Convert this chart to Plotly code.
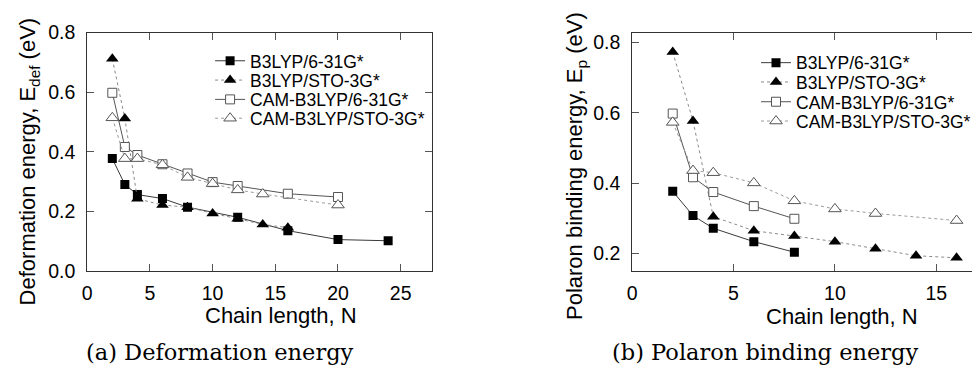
import plotly.graph_objects as go

# ---- Panel (a): deformation energy ----
n_a_b3_631 = [2, 3, 4, 6, 8, 12, 16, 20, 24]
e_a_b3_631 = [0.377, 0.290, 0.256, 0.243, 0.214, 0.180, 0.135, 0.105, 0.101]
n_a_b3_sto = [2, 3, 4, 6, 8, 10, 12, 14, 16]
e_a_b3_sto = [0.712, 0.512, 0.242, 0.221, 0.214, 0.193, 0.175, 0.156, 0.145]
n_a_cam_631 = [2, 3, 4, 6, 8, 10, 12, 16, 20]
e_a_cam_631 = [0.598, 0.416, 0.389, 0.358, 0.327, 0.298, 0.285, 0.259, 0.248]
n_a_cam_sto = [2, 3, 4, 6, 8, 10, 12, 14, 20]
e_a_cam_sto = [0.514, 0.377, 0.377, 0.356, 0.314, 0.293, 0.272, 0.258, 0.221]

# ---- Panel (b): polaron binding energy ----
n_b_b3_631 = [2, 3, 4, 6, 8]
e_b_b3_631 = [0.377, 0.308, 0.272, 0.234, 0.204]
n_b_b3_sto = [2, 3, 4, 6, 8, 10, 12, 14, 16]
e_b_b3_sto = [0.773, 0.577, 0.305, 0.265, 0.250, 0.234, 0.214, 0.194, 0.188]
n_b_cam_631 = [2, 3, 4, 6, 8]
e_b_cam_631 = [0.598, 0.417, 0.375, 0.335, 0.299]
n_b_cam_sto = [2, 3, 4, 6, 8, 10, 12, 16]
e_b_cam_sto = [0.573, 0.436, 0.430, 0.401, 0.350, 0.327, 0.314, 0.294]

series_names = ["B3LYP/6-31G*", "B3LYP/STO-3G*", "CAM-B3LYP/6-31G*", "CAM-B3LYP/STO-3G*"]

FONT = "Liberation Sans, Arial, sans-serif"
W, H = 976, 376


def px(x):
    return x / W


def py(y):
    return 1 - y / H


styles = [
    dict(line=dict(color="#3a3a3a", width=1, dash="solid"),
         marker=dict(symbol="square", size=9, color="black", line=dict(color="black", width=0))),
    dict(line=dict(color="#8a8a8a", width=1, dash="dot"),
         marker=dict(symbol="triangle-up", size=11, color="black", line=dict(color="black", width=0))),
    dict(line=dict(color="#555555", width=1, dash="solid"),
         marker=dict(symbol="square", size=9, color="white", line=dict(color="#555555", width=1))),
    dict(line=dict(color="#9a9a9a", width=1, dash="dot"),
         marker=dict(symbol="triangle-up", size=11, color="white", line=dict(color="#555555", width=1))),
]

panel_a = [(n_a_b3_631, e_a_b3_631), (n_a_b3_sto, e_a_b3_sto),
           (n_a_cam_631, e_a_cam_631), (n_a_cam_sto, e_a_cam_sto)]
panel_b = [(n_b_b3_631, e_b_b3_631), (n_b_b3_sto, e_b_b3_sto),
           (n_b_cam_631, e_b_cam_631), (n_b_cam_sto, e_b_cam_sto)]

# one single-entry legend per series so the row spacing can be set freely
legend_rows_a = [53, 73.5, 94, 114]
legend_rows_b = [55, 75.5, 96.5, 117]
legend_x_a = 207
legend_x_b = 758

legend_layout = {}
fig = go.Figure()
k = 1
for panel, xa, ya, rows, lx in [(panel_a, "x", "y", legend_rows_a, legend_x_a),
                                (panel_b, "x2", "y2", legend_rows_b, legend_x_b)]:
    for (xs, ys), name, st, row in zip(panel, series_names, styles, rows):
        lname = "legend" if k == 1 else f"legend{k}"
        fig.add_trace(go.Scatter(x=xs, y=ys, name=name, mode="lines+markers",
                                 xaxis=xa, yaxis=ya, legend=lname, **st))
        legend_layout[lname] = dict(
            x=px(lx), y=py(row), xanchor="left", yanchor="middle",
            bgcolor="rgba(0,0,0,0)", borderwidth=0,
            font=dict(family=FONT, size=17.5, color="black"))
        k += 1

axis_common = dict(showline=True, linecolor="#333333", linewidth=1,
                   ticks="inside", ticklen=7, tickcolor="#555555", tickwidth=1,
                   showgrid=False, zeroline=False,
                   tickfont=dict(family=FONT, size=19.5, color="black"))

fig.update_layout(
    width=W, height=H, margin=dict(l=0, r=0, t=0, b=0),
    paper_bgcolor="white", plot_bgcolor="white",
    font=dict(family=FONT, color="black"),
    xaxis=dict(domain=[px(83), px(431)], range=[0, 27.5], tickvals=[0, 5, 10, 15, 20, 25],
               anchor="y", mirror="allticks", ticklabelstandoff=5, **axis_common),
    yaxis=dict(domain=[py(276), py(23)], range=[0, 0.8], tickvals=[0, 0.2, 0.4, 0.6, 0.8],
               tickformat=".1f", anchor="x", mirror="allticks", ticklabelstandoff=7,
               **axis_common),
    xaxis2=dict(domain=[px(633), 1.0], range=[0, 16.76], tickvals=[0, 5, 10, 15],
                anchor="y2", mirror="allticks", ticklabelstandoff=5, **axis_common),
    yaxis2=dict(domain=[py(276), py(23)], range=[0.151, 0.828], tickvals=[0.2, 0.4, 0.6, 0.8],
                tickformat=".1f", anchor="x2", mirror=False, ticklabelstandoff=7,
                **axis_common),
    # right-hand tick stubs of panel (b), whose frame runs past the page edge
    yaxis3=dict(overlaying="y2", side="right", anchor="x2", range=[0.151, 0.828],
                tickvals=[0.2, 0.4, 0.6, 0.8], showticklabels=False, showline=False,
                ticks="inside", ticklen=4, tickcolor="#555555", tickwidth=1,
                showgrid=False, zeroline=False),
    showlegend=True,
    **legend_layout,
)

annots = [
    dict(text="Chain length, N", x=px(279), y=py(323), font=dict(size=22)),
    dict(text="Deformation energy, E<sub>def</sub> (eV)", x=px(24), y=py(160),
         textangle=-90, font=dict(size=22)),
    dict(text="Chain length, N", x=px(845), y=py(325), font=dict(size=22)),
    dict(text="Polaron binding energy, E<sub>p</sub> (eV)", x=px(577), y=py(165),
         textangle=-90, font=dict(size=22)),
    dict(text="(a) Deformation energy", x=px(217), y=py(362),
         font=dict(family="DejaVu Serif, serif", size=22.5)),
    dict(text="(b) Polaron binding energy", x=px(767), y=py(362),
         font=dict(family="DejaVu Serif, serif", size=22.5)),
]
for a in annots:
    f = dict(family=FONT, color="black")
    f.update(a.pop("font"))
    fig.add_annotation(xref="paper", yref="paper", showarrow=False,
                       xanchor="center", yanchor="middle", font=f, **a)

fig.write_html("out.html")
